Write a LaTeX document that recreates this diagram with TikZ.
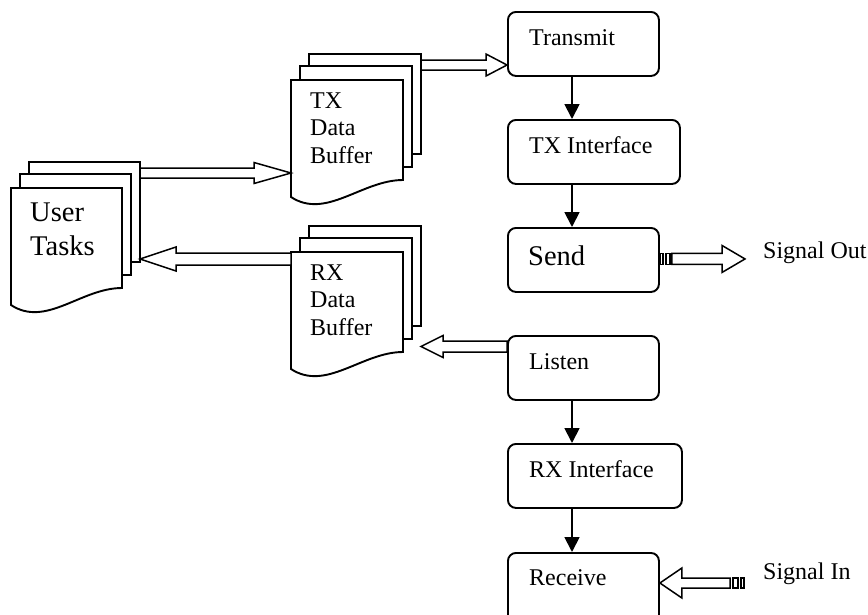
\documentclass[tikz,border=0pt]{standalone}
\usepackage{fontspec}
\setmainfont{Liberation Serif}
\usetikzlibrary{arrows.meta,calc}
\tikzset{
  procbox/.style={draw, line width=1.9pt, rounded corners=8pt, minimum width=151pt, minimum height=64pt, anchor=north west, inner sep=0pt},
  boxtext/.style={anchor=base west, inner sep=0pt, font=\fontsize{24}{28}\selectfont},
  bigtext/.style={anchor=base west, inner sep=0pt, font=\fontsize{28.5}{34}\selectfont},
  doctext/.style={anchor=base west, inner sep=0pt, font=\fontsize{24}{27.5}\selectfont},
  flow/.style={line width=1.8pt, -{Triangle[length=15pt,width=15pt]}},
  docline/.style={line width=1.9pt, fill=white, line join=miter},
  barrow/.style={line width=1.5pt, fill=white, line join=miter},
}
\newcommand{\multidoc}[3]{%
  \draw[docline] (#1+18,#2-26) rectangle (#1+18+#3,#2+74);
  \draw[docline] (#1+9,#2-14) rectangle (#1+9+#3,#2+87);
  \draw[docline] (#1,#2) -- (#1+#3,#2) -- (#1+#3,#2+100)
     .. controls (#1+#3-41,#2+100) and (#1+35,#2+140) .. (#1,#2+117) -- cycle;
}
\newcommand{\blockarrow}[5]{%
  \draw[barrow] let \p1=(#1), \p2=(#2), \n1={ifthenelse(\x2>\x1,1,-1)} in
   ({\x1},{\y1+#3pt}) -- ({\x2-(\n1)*#5pt},{\y1+#3pt}) -- ({\x2-(\n1)*#5pt},{\y1+#4pt})
   -- ({\x2},{\y1}) -- ({\x2-(\n1)*#5pt},{\y1-#4pt}) -- ({\x2-(\n1)*#5pt},{\y1-#3pt})
   -- ({\x1},{\y1-#3pt}) -- cycle;
}
\begin{document}
\begin{tikzpicture}[x=1pt,y=-1pt]
\useasboundingbox (0,0) rectangle (868,614);
\clip (0,0) rectangle (868,614);
\fill[white] (0,0) rectangle (868,614);

% process boxes
\node[procbox] (transmit) at (507,11) {};
\node[procbox, minimum width=172pt] (txi) at (507,119) {};
\node[procbox] (send) at (507,227) {};
\node[procbox] (listen) at (507,335) {};
\node[procbox, minimum width=174pt] (rxi) at (507,443) {};
\node[procbox, minimum height=90pt] (receive) at (507,552) {};

\node[boxtext] (t1) at ($(transmit.north west)+(22,34)$) {Transmit};
\node[boxtext] (t2) at ($(txi.north west)+(22,34)$) {TX Interface};
\node[bigtext] (t3) at ($(send.north west)+(21,38)$) {Send};
\node[boxtext] (t4) at ($(listen.north west)+(22,34)$) {Listen};
\node[boxtext] (t5) at ($(rxi.north west)+(22,34)$) {RX Interface};
\node[boxtext] (t6) at ($(receive.north west)+(22,33)$) {Receive};

% vertical flow arrows
\coordinate (col) at (572,0);
\draw[flow] (transmit.south -| col) -- (txi.north -| col);
\draw[flow] (txi.south -| col) -- (send.north -| col);
\draw[flow] (listen.south -| col) -- (rxi.north -| col);
\draw[flow] (rxi.south -| col) -- (receive.north -| col);

% multi-documents
\multidoc{11}{188}{111}
\multidoc{291}{80}{112}
\multidoc{291}{252}{112}
\node[bigtext] (ut) at (30,221) {\vtop{\hbox{User}\hbox{Tasks}}};
\node[doctext] (txb) at (310,108) {\vtop{\hbox{TX}\hbox{Data}\hbox{Buffer}}};
\node[doctext] (rxb) at (310,280) {\vtop{\hbox{RX}\hbox{Data}\hbox{Buffer}}};

\coordinate (ut-out) at (140,173);
\coordinate (tx-in) at (291,173);
\coordinate (tx-out) at (421,65);
\coordinate (tr-in) at (transmit.south west |- tx-out);
\coordinate (ls-out) at ($(listen.north west)+(0,11.5)$);
\coordinate (rx-in) at (421,346.5);
\coordinate (rx-out) at (291,259);
\coordinate (ut-in) at (140,259);

\blockarrow{ut-out}{tx-in}{5}{10.5}{37}
\blockarrow{tx-out}{tr-in}{5}{11}{21}
\blockarrow{ls-out}{rx-in}{5.5}{11}{22}
\blockarrow{rx-out}{ut-in}{6}{12}{36}

% signal out (striped)
\coordinate (so-tail) at ($(send.east)+(12,-1)$);
\coordinate (so-tip) at (745,258.5);
\draw[barrow] ($(send.east)+(0,-6.5)$) rectangle ($(send.east)+(3,4.5)$);
\draw[barrow] ($(send.east)+(6,-6.5)$) rectangle ($(send.east)+(10,4.5)$);
\blockarrow{so-tail}{so-tip}{5.5}{13.5}{23}
\node[boxtext] (sigout) at (763,258) {Signal Out};

% signal in (striped)
\coordinate (si-tip) at ($(receive.north east)+(0,31)$);
\coordinate (si-tail) at (730,583);
\draw[barrow] ($(si-tail)+(3,-5)$) rectangle ($(si-tail)+(8,5)$);
\draw[barrow] ($(si-tail)+(11,-5)$) rectangle ($(si-tail)+(14,5)$);
\blockarrow{si-tail}{si-tip}{5}{15}{22}
\node[boxtext] (sigin) at (763,579) {Signal In};
\end{tikzpicture}
\end{document}
